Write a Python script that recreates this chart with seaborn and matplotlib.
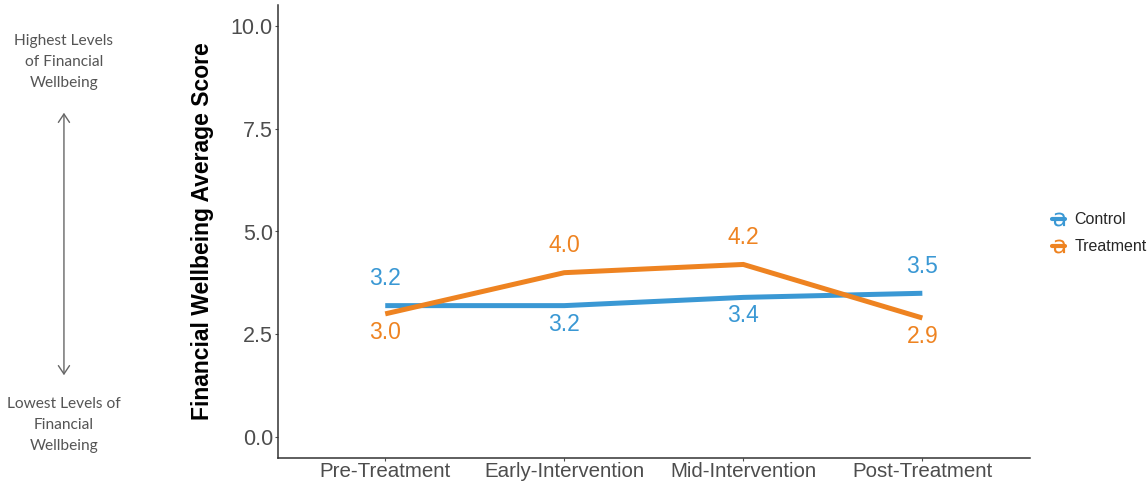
import matplotlib
matplotlib.use("Agg")
import matplotlib.pyplot as plt
from matplotlib.lines import Line2D
import seaborn as sns
import pandas as pd

# Study phases and group average scores
phases = ["Pre-Treatment", "Early-Intervention", "Mid-Intervention", "Post-Treatment"]
control_scores = [3.2, 3.2, 3.4, 3.5]
treatment_scores = [3.0, 4.0, 4.2, 2.9]
groups = ["Control", "Treatment"]
y_ticks = [0.0, 2.5, 5.0, 7.5, 10.0]

colors = {"Control": "#3A98D4", "Treatment": "#EE8321"}

df = pd.DataFrame({
    "Phase": phases * 2,
    "Group": ["Control"] * len(phases) + ["Treatment"] * len(phases),
    "Score": control_scores + treatment_scores,
})
df["x"] = df["Phase"].map({p: i for i, p in enumerate(phases)})

sns.set_theme(style="white")
plt.rcParams["font.family"] = ["Liberation Sans", "DejaVu Sans"]

fig = plt.figure(figsize=(11.48, 4.82), dpi=100)
ax = fig.add_axes([0.242, 1 - 458 / 482, 0.655, (458 - 5) / 482])

sns.lineplot(data=df, x="x", y="Score", hue="Group", hue_order=groups,
             palette=colors, linewidth=3.6, ax=ax, legend=False,
             solid_capstyle="butt", solid_joinstyle="miter")

# Value labels: higher series above the line, lower series below
for i, phase in enumerate(phases):
    c, t = control_scores[i], treatment_scores[i]
    for g, v, other in (("Control", c, t), ("Treatment", t, c)):
        dy = 0.66 if v >= other else -0.45
        ax.text(i, v + dy, f"{v:.1f}", color=colors[g], fontsize=16.5,
                ha="center", va="center")

ax.set_xlim(-0.6, len(phases) - 0.4)
ax.set_ylim(-0.5, 10.5)
ax.set_xticks(range(len(phases)))
ax.set_xticklabels(phases)
ax.set_yticks(y_ticks)
ax.set_yticklabels([f"{v:.1f}" for v in y_ticks])
ax.tick_params(axis="both", colors="#4D4D4D", length=2.5, width=0.8,
               direction="out", bottom=True, left=True)
ax.tick_params(axis="y", labelsize=15.5, pad=1)
ax.tick_params(axis="x", labelsize=14.8, pad=0.5)
ax.set_xlabel("")
ax.set_ylabel("Financial Wellbeing Average Score", fontsize=16.5,
              fontweight="bold", color="black", labelpad=12)
for side in ("top", "right"):
    ax.spines[side].set_visible(False)
for side in ("left", "bottom"):
    ax.spines[side].set_color("#333333")
    ax.spines[side].set_linewidth(1.1)

# Legend with text-style keys
handles = [Line2D([], [], color=colors[g], lw=3, marker=r"$\mathsf{a}$",
                  markersize=10, markeredgewidth=0) for g in groups]
fig.legend(handles, groups, loc="center left", bbox_to_anchor=(0.911, 0.516),
           frameon=False, fontsize=11.5, handlelength=0.8, handletextpad=0.6,
           labelspacing=0.75, borderaxespad=0)

# Scale annotation on the left
note_font = ["Lato", "DejaVu Sans"]
fig.text(0.0557, 1 - 62 / 482, "Highest Levels\nof Financial\nWellbeing",
         ha="center", va="center", fontsize=11.2, color="#555555",
         family=note_font, linespacing=1.6)
fig.text(0.0557, 1 - 425 / 482, "Lowest Levels of\nFinancial\nWellbeing",
         ha="center", va="center", fontsize=11.2, color="#555555",
         family=note_font, linespacing=1.6)
fig.add_artist(matplotlib.patches.FancyArrowPatch(
    (0.0557, 1 - 378 / 482), (0.0557, 1 - 110 / 482),
    transform=fig.transFigure, arrowstyle="<->,head_length=6,head_width=4",
    color="#666666", lw=1.0, mutation_scale=1))

fig.savefig("out.png", dpi=100)
